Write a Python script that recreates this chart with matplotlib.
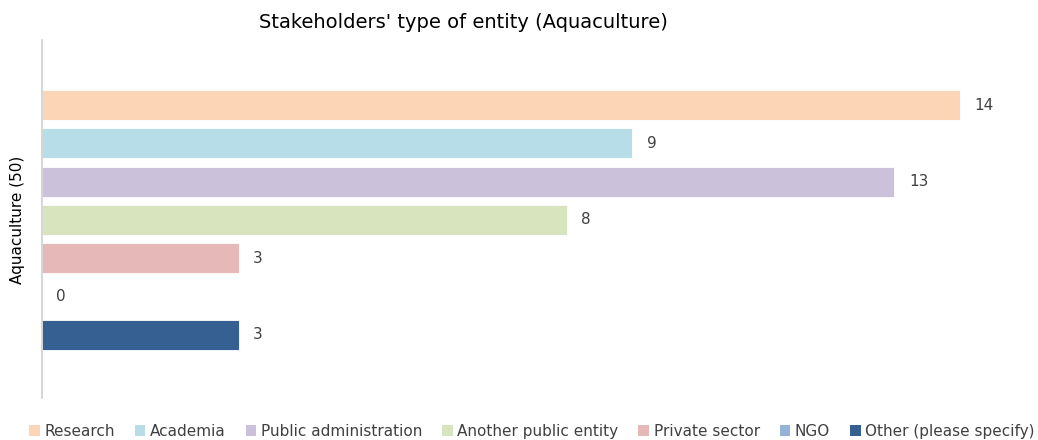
import matplotlib.pyplot as plt
from matplotlib.patches import Patch

plt.rcParams['font.family'] = ['DejaVu Sans']

categories = ['Research', 'Academia', 'Public administration', 'Another public entity',
              'Private sector', 'NGO', 'Other (please specify)']
counts = [14, 9, 13, 8, 3, 0, 3]
colors = ['#FBD5B5', '#B7DEE8', '#CCC1DA', '#D7E4BD', '#E6B9B8', '#95B3D7', '#376092']
group_label = 'Aquaculture (50)'

fig = plt.figure(figsize=(10.38, 4.4), dpi=100)
ax = fig.add_axes([42 / 1038, 1 - 398 / 440, 978 / 1038, 358 / 440])

pos = list(range(len(categories)))
ax.barh(pos, counts, height=0.78, color=colors, edgecolor='white', linewidth=0.6)
for p, v in zip(pos, counts):
    ax.text(v + 0.22, p, str(v), va='center', ha='left', fontsize=11, color='#404040')

ax.set_ylim(7.65, -1.7)
ax.set_xlim(0, 978 / 65.57)
ax.set_xticks([])
ax.set_yticks([])
for s in ['top', 'right', 'bottom']:
    ax.spines[s].set_visible(False)
ax.spines['left'].set_color('#D0D0D0')
ax.spines['left'].set_linewidth(1.2)

fig.text(18 / 1038, 1 - 220 / 440, group_label, rotation=90, va='center', ha='center',
         fontsize=11, color='#000000')
fig.text(463 / 1038, 1 - 22 / 440, "Stakeholders' type of entity (Aquaculture)",
         ha='center', va='center', fontsize=14, color='#000000')

handles = [Patch(facecolor=c, edgecolor='none') for c in colors]
fig.legend(handles, categories, loc='center', bbox_to_anchor=(532 / 1038, 1 - 431 / 440),
           ncol=7, frameon=False, fontsize=11, handlelength=0.7, handleheight=0.7,
           handletextpad=0.3, columnspacing=1.3, labelcolor='#404040')

fig.savefig('out.png', dpi=100)
